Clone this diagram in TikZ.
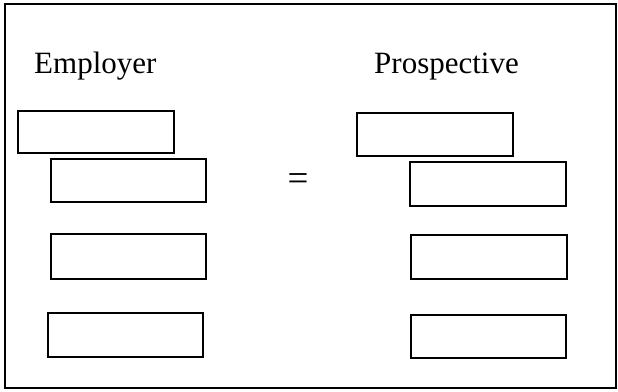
\documentclass[tikz,border=0pt]{standalone}
\usepackage{fontspec}
\setmainfont{Liberation Serif}
\begin{document}
\begin{tikzpicture}[x=1pt,y=-1pt,
  slot/.style={draw=black,line width=1.8pt,fill=white},
  head/.style={inner sep=0pt,anchor=base west,font=\fontsize{31}{31}\selectfont}]
\useasboundingbox (0,0) rectangle (618,391);
\fill[white] (0,0) rectangle (618,391);
% frame
\draw[line width=1.6pt] (5,388) -- (5,4) -- (616,4) -- (616,388) -- cycle;
\draw[line width=2.6pt] (5,4) -- (580,4);
% headings
\node[head] (emp) at (34,73) {Employer};
\node[head] (pro) at (374,73) {Prospective};
% left boxes
\draw[slot] (18,111) rectangle (174,153);
\draw[slot] (51,159) rectangle (206,202);
\draw[slot] (51,234) rectangle (206,279);
\draw[slot] (48,313) rectangle (203,357);
% right boxes
\draw[slot] (357,113) rectangle (513,156);
\draw[slot] (410,162) rectangle (566,206);
\draw[slot] (411,235) rectangle (567,279);
\draw[slot] (411,315) rectangle (566,358);
% equals
\node[inner sep=0pt,font=\fontsize{37}{37}\selectfont] (eq) at (298,182) {=};
\end{tikzpicture}
\end{document}
